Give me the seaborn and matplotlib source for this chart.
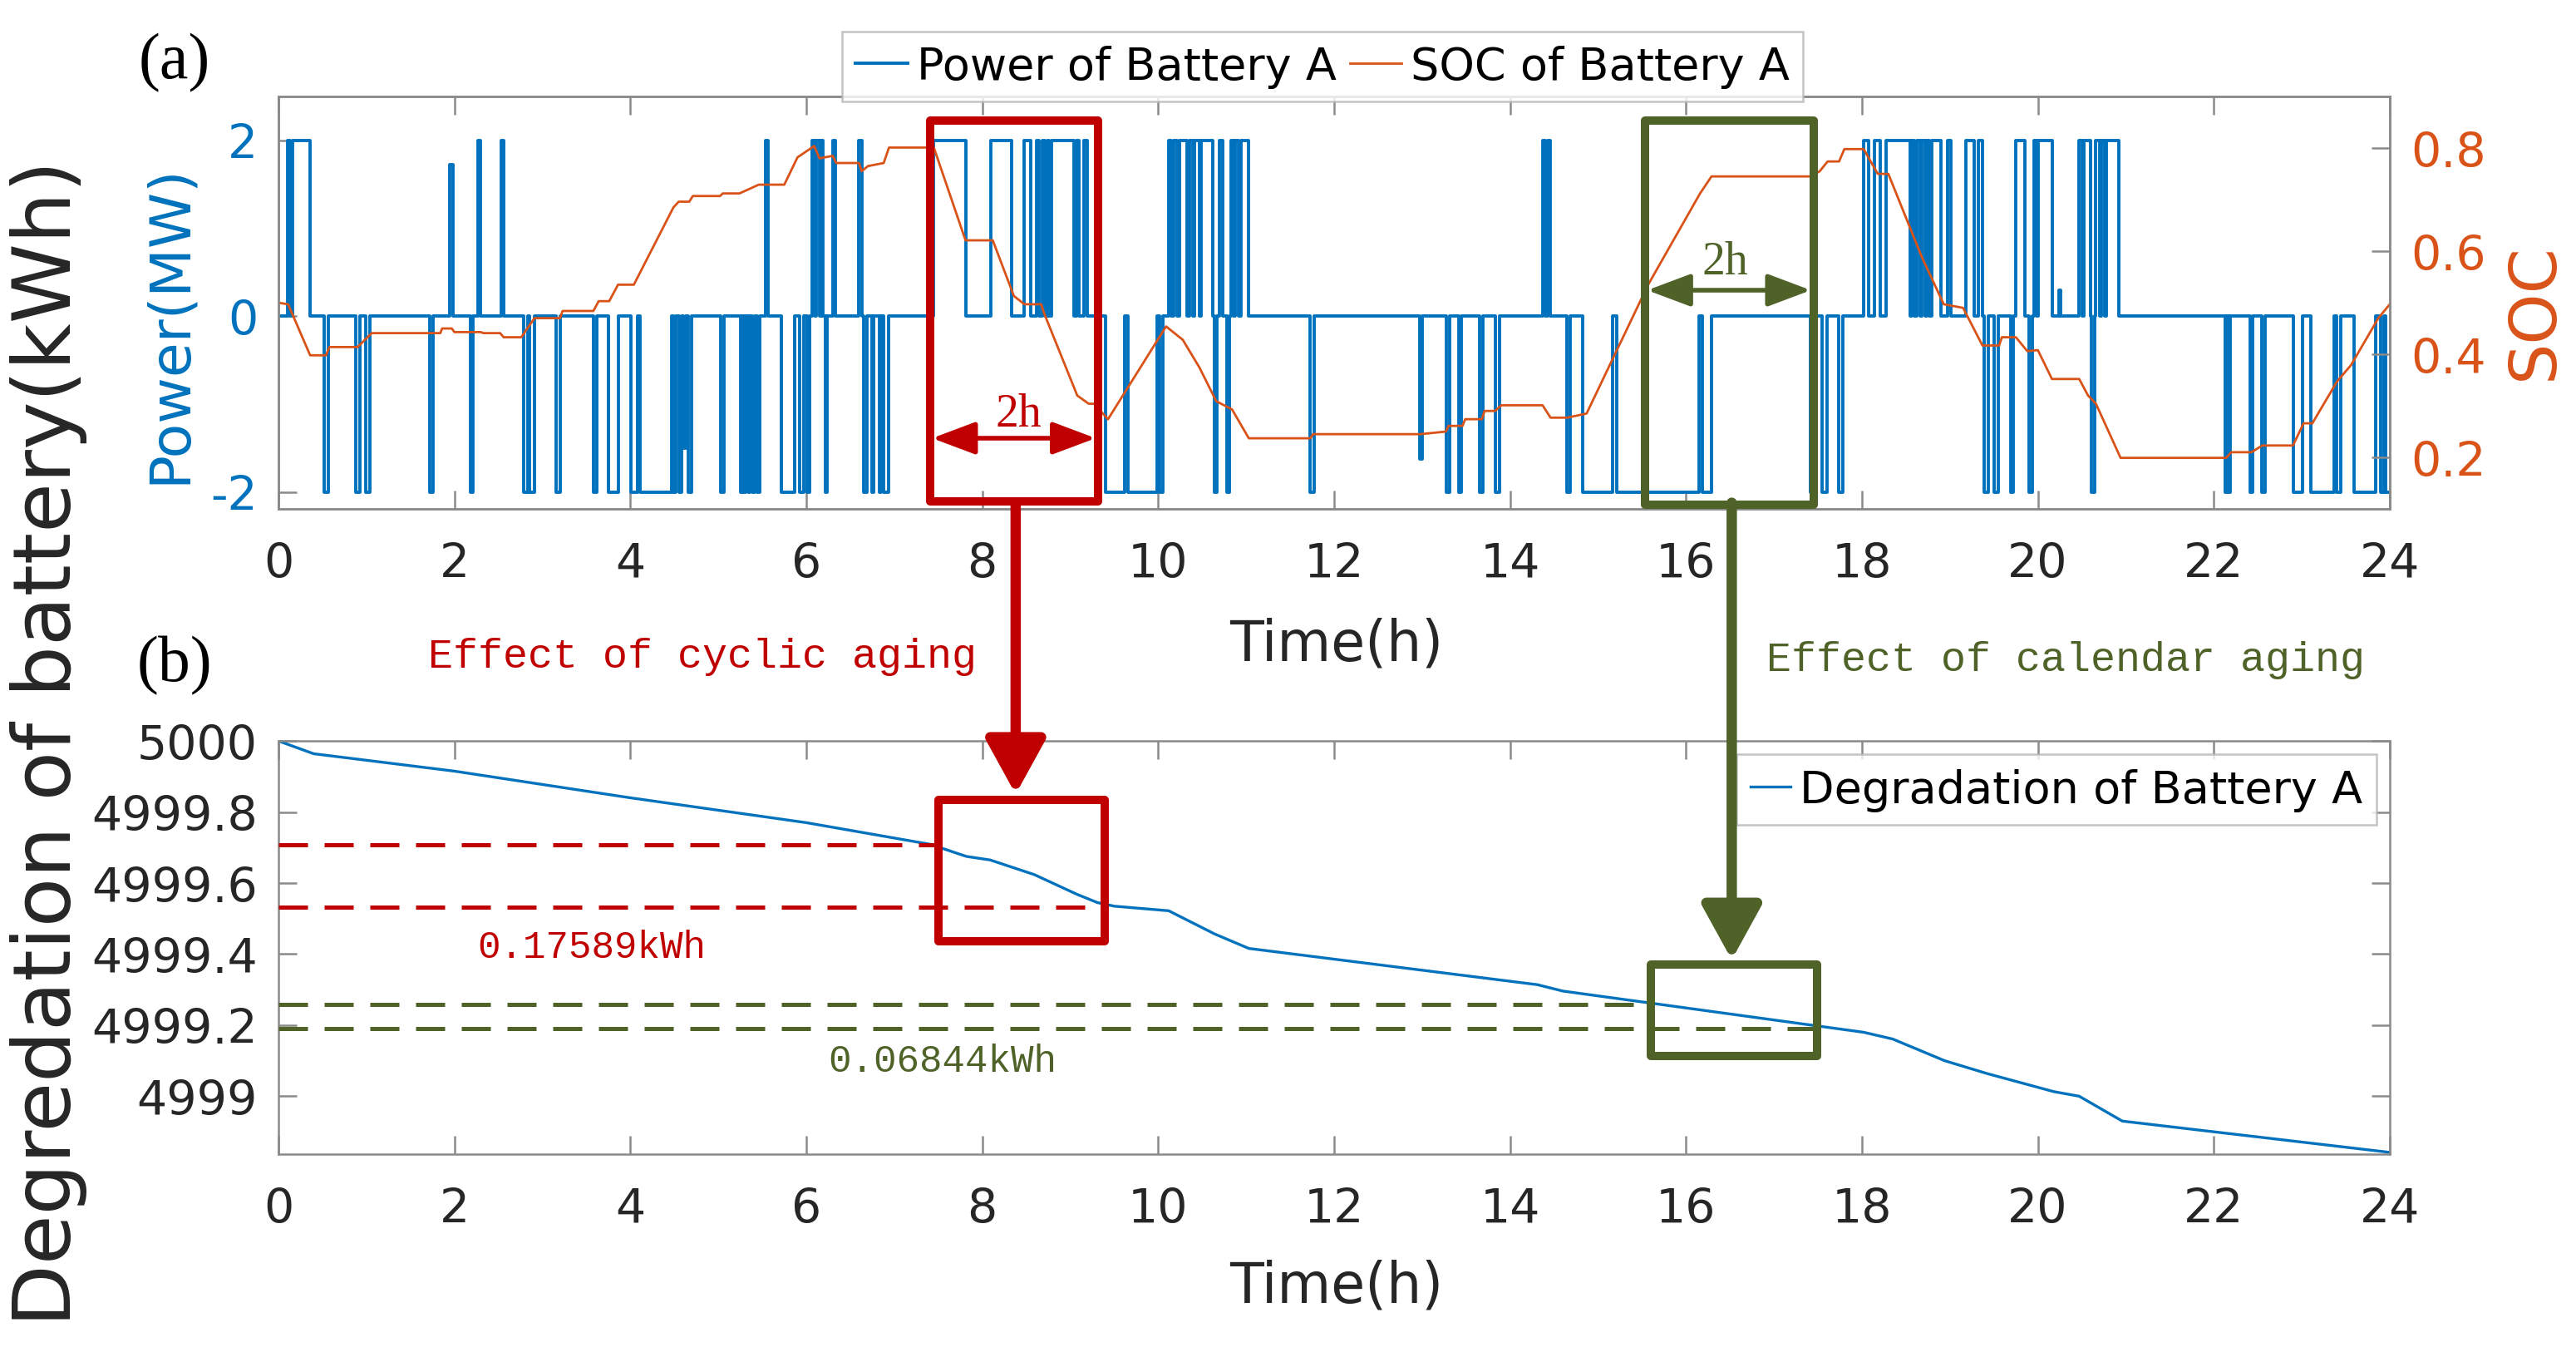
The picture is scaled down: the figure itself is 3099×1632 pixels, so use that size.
import matplotlib
matplotlib.use('Agg')
import matplotlib.pyplot as plt
import matplotlib.transforms as mtransforms
from matplotlib.patches import Rectangle, ConnectionPatch
from matplotlib.ticker import FuncFormatter
import seaborn as sns

# Power of battery A (MW): switch times (h) and the level held from that time on
power_t = [0.00, 0.10, 0.13, 0.16, 0.36, 0.52, 0.57, 0.88, 0.93, 0.99, 1.04,
           1.72, 1.76, 1.95, 1.98, 2.18, 2.21, 2.27, 2.30, 2.53, 2.56,
           2.79, 2.83, 2.85, 2.91, 3.16, 3.20, 3.58, 3.62, 3.75, 3.86,
           4.01, 4.08, 4.11, 4.47, 4.49, 4.52, 4.55, 4.58, 4.60, 4.63, 4.66, 4.70,
           5.03, 5.06, 5.25, 5.27, 5.29, 5.31, 5.34, 5.36, 5.39, 5.41, 5.44, 5.47,
           5.54, 5.57, 5.72, 5.87, 5.92, 5.97, 6.01, 6.04,
           6.07, 6.09, 6.11, 6.15, 6.17, 6.19, 6.22, 6.24, 6.30, 6.33, 6.60, 6.63,
           6.65, 6.69, 6.75, 6.77, 6.83, 6.85, 6.88, 6.94,
           7.45, 7.81, 8.10, 8.33, 8.48, 8.55, 8.62, 8.65, 8.68, 8.71, 8.74, 8.76,
           8.79, 9.04, 9.07, 9.10, 9.16, 9.19,
           9.40, 9.62, 9.66, 9.99, 10.02, 10.05,
           10.12, 10.15, 10.18, 10.21, 10.24, 10.33, 10.36, 10.39, 10.41, 10.47, 10.49, 10.62,
           10.64, 10.67, 10.70, 10.73, 10.78, 10.81, 10.83, 10.86, 10.88, 10.91, 10.94, 11.03,
           11.73, 11.77,
           12.97, 13.00, 13.28, 13.31, 13.42, 13.45, 13.65, 13.69, 13.83, 13.88,
           14.37, 14.40, 14.43, 14.46, 14.65, 14.68, 14.83, 15.17, 15.21,
           16.15, 16.19, 16.29, 17.41, 17.44, 17.55, 17.60, 17.74, 17.78,
           18.02, 18.08, 18.14, 18.21, 18.27, 18.55, 18.57, 18.60, 18.62, 18.66, 18.68, 18.72,
           18.74, 18.77, 18.79, 18.90,
           18.97, 19.01, 19.18, 19.28, 19.32, 19.37, 19.39, 19.44, 19.50, 19.55, 19.69, 19.72,
           19.75, 19.85, 19.90, 19.94,
           19.96, 19.98, 20.00, 20.16, 20.24, 20.26, 20.47, 20.50, 20.52, 20.60, 20.61, 20.65,
           20.66, 20.70, 20.72, 20.76, 20.78, 20.92,
           22.13, 22.15, 22.17, 22.19, 22.41, 22.44, 22.55, 22.58, 22.90, 23.01, 23.10, 23.37,
           23.40, 23.44, 23.59, 23.84, 23.90, 23.93, 23.95, 24.00]
power_v = [0, 2, 0, 2, 0, -2, 0, -2, 0, -2, 0,
           -2, 0, 1.73, 0, -2, 0, 2, 0, 2, 0,
           -2, 0, -2, 0, -2, 0, -2, 0, -2, 0,
           -2, 0, -2, 0, -2, 0, -2, 0, -1.5, 0, -2, 0,
           -2, 0, -2, 0, -2, 0, -2, 0, -2, 0, -2, 0,
           2, 0, -2, 0, -2, 0, -2, 0,
           2, 0, 2, 0, 2, 0, -2, 0, 2, 0, 2, 0,
           -2, 0, -2, 0, -2, 0, -2, 0,
           2, 0, 2, 0, 2, 0, 2, 0, 2, 0, 2, 0,
           2, 0, 2, 0, 2, 0,
           -2, 0, -2, 0, -2, 0,
           2, 0, 2, 0, 2, 0, 2, 0, 2, 0, 2, 0,
           -2, 0, 2, 0, -2, 0, 2, 0, 2, 0, 2, 0,
           -2, 0,
           -1.62, 0, -2, 0, -2, 0, -2, 0, -2, 0,
           2, 0, 2, 0, -2, 0, -2, 0, -2,
           0, -2, 0, -2, 0, -2, 0, -2, 0,
           2, 0, 2, 0, 2, 0, 2, 0, 2, 0, 2, 0,
           2, 0, 2, 0,
           2, 0, 2, 0, 2, 0, -2, 0, -2, 0, -2, 0,
           2, 0, -2, 0,
           2, 0, 2, 0, 0.3, 0, 2, 0, 2, 0, -2, 0,
           2, 0, 2, 0, 2, 0,
           -2, 0, -2, 0, -2, 0, -2, 0, -2, 0, -2, 0,
           -2, 0, -2, 0, -2, 0, -2, -2]

# State of charge of battery A
soc_t = [0.00, 0.11, 0.36, 0.54, 0.58, 0.90, 1.06, 1.84, 1.86, 1.97, 2.00, 2.30, 2.33,
         2.52, 2.56, 2.76, 2.91, 3.20, 3.23, 3.58, 3.64, 3.76, 3.86, 4.04, 4.49, 4.55,
         4.67, 4.71, 5.02, 5.05, 5.24, 5.46, 5.75, 5.90, 6.09, 6.15, 6.30, 6.34, 6.60,
         6.63, 6.70, 6.88, 6.94, 7.45, 7.81, 8.12, 8.36, 8.48, 8.67, 8.70, 9.08, 9.21,
         9.27, 9.43, 10.09, 10.28, 10.47, 10.66, 10.84, 11.03, 11.73, 11.76, 12.98, 13.27,
         13.30, 13.46, 13.49, 13.68, 13.71, 13.83, 13.90, 14.37, 14.46, 14.65, 14.87,
         15.57, 16.16, 16.29, 17.42, 17.52, 17.61, 17.74, 17.80, 18.02, 18.11, 18.18,
         18.30, 18.68, 18.93, 19.15, 19.37, 19.56, 19.59, 19.75, 19.88, 20.00, 20.16,
         20.47, 20.57, 20.66, 20.94, 22.14, 22.20, 22.43, 22.55, 22.90, 23.02, 23.12,
         23.40, 23.56, 23.87, 24.00]
soc_v = [0.500, 0.497, 0.398, 0.398, 0.414, 0.414, 0.441, 0.441, 0.450, 0.450, 0.443, 0.443, 0.441,
         0.441, 0.433, 0.433, 0.470, 0.470, 0.484, 0.484, 0.503, 0.503, 0.535, 0.535, 0.685, 0.696,
         0.696, 0.707, 0.707, 0.712, 0.712, 0.729, 0.729, 0.782, 0.804, 0.780, 0.785, 0.771, 0.771,
         0.755, 0.765, 0.771, 0.801, 0.801, 0.621, 0.621, 0.513, 0.497, 0.497, 0.481, 0.320, 0.304,
         0.304, 0.274, 0.454, 0.428, 0.374, 0.309, 0.293, 0.237, 0.237, 0.245, 0.245, 0.250,
         0.261, 0.261, 0.274, 0.274, 0.290, 0.290, 0.301, 0.301, 0.277, 0.277, 0.285,
         0.535, 0.712, 0.745, 0.745, 0.755, 0.774, 0.774, 0.798, 0.798, 0.771, 0.750,
         0.750, 0.589, 0.497, 0.490, 0.417, 0.417, 0.433, 0.433, 0.406, 0.408, 0.352,
         0.352, 0.320, 0.304, 0.199, 0.199, 0.210, 0.210, 0.223, 0.223, 0.266, 0.266,
         0.347, 0.379, 0.470, 0.497]

# Remaining capacity of battery A (kWh)
deg_t = [0.00, 0.40, 2.00, 4.00, 6.00, 7.41, 7.82, 8.09, 8.59, 9.08, 9.31, 9.50, 10.12,
         10.64, 11.03, 14.31, 14.60, 17.49, 18.02, 18.35, 18.94, 19.42, 20.18, 20.47,
         20.96, 24.00]
deg_v = [5000.000, 4999.964, 4999.915, 4999.840, 4999.770, 4999.709, 4999.675, 4999.665,
         4999.624, 4999.568, 4999.545, 4999.535, 4999.522, 4999.457, 4999.416, 4999.314,
         4999.296, 4999.198, 4999.180, 4999.161, 4999.100, 4999.064, 4999.013, 4999.000,
         4998.930, 4998.842]

# capacity drop inside the two 2 h windows
cyclic_top = 4999.707
cyclic_drop = 0.17589
calendar_top = 4999.258
calendar_drop = 0.06844

hours = list(range(0, 25, 2))

blue = '#0072BD'
orange = '#D95319'
red = '#C00000'
green = '#4F6228'
gray = '#8a8a8a'
dark = '#262626'

plt.rcParams['font.family'] = ['DejaVu Sans']
plt.rcParams['axes.linewidth'] = 0.9
plt.rcParams['axes.unicode_minus'] = False

fig = plt.figure(figsize=(15.495, 8.165), dpi=200)
ax1 = fig.add_axes([0.1081, 0.6246, 0.8196, 0.3037])
ax3 = fig.add_axes([0.1081, 0.1494, 0.8196, 0.3043])
ax2 = ax1.twinx()

# (a) power and SOC
sns.lineplot(x=power_t, y=power_v, ax=ax1, color=blue, lw=1.4, drawstyle='steps-post',
             estimator=None, sort=False)
sns.lineplot(x=soc_t, y=soc_v, ax=ax2, color=orange, lw=1.0, estimator=None, sort=False)
ax1.set_xlim(0, 24)
ax1.set_ylim(-2.19, 2.5)
ax2.set_ylim(0.1, 0.9)
ax1.set_xticks(hours)
ax1.set_yticks([-2, 0, 2])
ax2.set_yticks([0.2, 0.4, 0.6, 0.8])

# (b) degradation
sns.lineplot(x=deg_t, y=deg_v, ax=ax3, color=blue, lw=1.2, estimator=None, sort=False,
             label='Degradation of Battery A')
ax3.set_xlim(0, 24)
ax3.set_ylim(4998.837, 5000)
ax3.set_xticks(hours)
ax3.set_yticks([4999, 4999.2, 4999.4, 4999.6, 4999.8, 5000])
ax3.yaxis.set_major_formatter(FuncFormatter(lambda v, p: f'{v:g}'))

for ax in (ax1, ax2, ax3):
    for s in ax.spines.values():
        s.set_color(gray)
    ax.set_facecolor('none')
ax1.tick_params(axis='x', direction='in', top=True, bottom=True, length=8, width=0.9,
                color=gray, labelsize=20.5, labelcolor=dark, pad=14)
ax1.tick_params(axis='y', direction='in', left=True, right=False, length=8, width=0.9,
                color=gray, labelsize=20.5, labelcolor=blue, pad=9)
ax2.tick_params(axis='y', direction='in', right=True, length=8, width=0.9,
                color=gray, labelsize=20.5, labelcolor=orange, pad=9)
ax3.tick_params(axis='x', direction='in', top=True, bottom=True, length=8, width=0.9,
                color=gray, labelsize=20.5, labelcolor=dark, pad=14)
ax3.tick_params(axis='y', direction='in', left=True, right=True, length=8, width=0.9,
                color=gray, labelsize=20.5, labelcolor=dark, pad=9)

ax1.set_xlabel('Time(h)', fontsize=24, color=dark)
ax1.xaxis.set_label_coords(0.501, -0.327)
ax1.xaxis.label.set_va('center')
ax1.set_ylabel('Power(MW)', fontsize=24.5, color=blue)
ax1.yaxis.set_label_coords(-0.0516, 0.45)
ax1.yaxis.label.set_va('center')
ax2.set_ylabel('SOC', fontsize=28, color=orange)
ax2.yaxis.set_label_coords(1.0685, 0.48)
ax2.yaxis.label.set_va('center')
ax3.set_xlabel('Time(h)', fontsize=24, color=dark)
ax3.xaxis.set_label_coords(0.501, -0.318)
ax3.xaxis.label.set_va('center')
ax3.set_ylabel('Degredation of battery(kWh)', fontsize=35, color=dark)
ax3.yaxis.set_label_coords(-0.1087, 0.996)
ax3.yaxis.label.set_va('center')

# legends
h_power = ax1.lines[0]
h_soc = ax2.lines[0]
leg = ax2.legend([h_power, h_soc], ['Power of Battery A', 'SOC of Battery A'],
                 loc='lower center', bbox_to_anchor=(0.4945, 0.988), ncol=2,
                 fontsize=19.5, frameon=True, fancybox=False, edgecolor='#b5b5b5',
                 handlelength=1.15, handletextpad=0.2, columnspacing=0.3,
                 borderpad=0.3, borderaxespad=0)
leg.get_frame().set_linewidth(0.9)
leg3 = ax3.legend(loc='upper right', fontsize=19.5, frameon=True, fancybox=False,
                  edgecolor='#b5b5b5', handlelength=0.9, handletextpad=0.2,
                  borderpad=0.3, borderaxespad=0.3)
leg3.get_frame().set_linewidth(0.9)

# window boxes in panel (a)
top_blend = mtransforms.blended_transform_factory(ax1.transData, ax1.transAxes)
ax2.add_patch(Rectangle((7.41, 0.018), 9.32 - 7.41, 0.9415 - 0.018, transform=top_blend,
                        fill=False, ec=red, lw=3.6, joinstyle='round', clip_on=False, zorder=6))
ax2.add_patch(Rectangle((15.53, 0.010), 17.45 - 15.53, 0.9415 - 0.010, transform=top_blend,
                        fill=False, ec=green, lw=3.6, joinstyle='round', clip_on=False, zorder=6))

# 2 h spans
ax2.annotate('', xy=(9.29, -1.386), xytext=(7.43, -1.386), xycoords=ax1.transData,
             textcoords=ax1.transData,
             arrowprops=dict(arrowstyle='<|-|>,head_length=1.6,head_width=0.6', color=red,
                             lw=2.0, shrinkA=0, shrinkB=0, mutation_scale=10), zorder=7)
ax2.text(8.41, -1.11, '2h', transform=ax1.transData, color=red, fontsize=20,
         family='Liberation Serif', ha='center', va='center', zorder=7)
ax2.annotate('', xy=(17.42, 0.297), xytext=(15.56, 0.297), xycoords=ax1.transData,
             textcoords=ax1.transData,
             arrowprops=dict(arrowstyle='<|-|>,head_length=1.6,head_width=0.6', color=green,
                             lw=2.0, shrinkA=0, shrinkB=0, mutation_scale=10), zorder=7)
ax2.text(16.44, 0.618, '2h', transform=ax1.transData, color=green, fontsize=20,
         family='Liberation Serif', ha='center', va='center', zorder=7)

# window boxes and drop markers in panel (b)
ax3.add_patch(Rectangle((7.50, 4999.436), 9.39 - 7.50, 4999.834 - 4999.436, fill=False,
                        ec=red, lw=3.6, joinstyle='round', clip_on=False, zorder=6))
ax3.add_patch(Rectangle((15.60, 4999.113), 17.49 - 15.60, 4999.371 - 4999.113, fill=False,
                        ec=green, lw=3.6, joinstyle='round', clip_on=False, zorder=6))
dash = (0, (7, 4))
ax3.hlines(cyclic_top, 0, 7.46, colors=red, linestyles=dash, lw=1.8, zorder=5)
ax3.hlines(cyclic_top - cyclic_drop, 0, 9.35, colors=red, linestyles=dash, lw=1.8, zorder=5)
ax3.hlines(calendar_top, 0, 15.46, colors=green, linestyles=dash, lw=1.8, zorder=5)
ax3.hlines(calendar_top - calendar_drop, 0, 17.49, colors=green, linestyles=dash, lw=1.8, zorder=5)
ax3.text(3.56, 4999.42, f'{cyclic_drop:.5f}kWh', color=red, fontsize=16.5,
         family='Liberation Mono', ha='center', va='center')
ax3.text(7.55, 4999.099, f'{calendar_drop:.5f}kWh', color=green, fontsize=16.5,
         family='Liberation Mono', ha='center', va='center')

# arrows linking the two panels
for x, yb, col in [(8.38, 4999.85, red), (16.52, 4999.384, green)]:
    con = ConnectionPatch(xyA=(x, 0.015), coordsA=top_blend, xyB=(x, yb), coordsB=ax3.transData,
                          arrowstyle='-|>,head_length=2.0,head_width=1.1', mutation_scale=10,
                          color=col, lw=4.5, shrinkA=0, shrinkB=0, zorder=8)
    fig.add_artist(con)

fig.text(0.2727, 0.5162, 'Effect of cyclic aging', color=red, fontsize=18,
         family='Liberation Mono', ha='center', va='center')
fig.text(0.8019, 0.5135, 'Effect of calendar aging', color=green, fontsize=18,
         family='Liberation Mono', ha='center', va='center')
fig.text(0.0678, 0.954, '(a)', fontsize=28, family='Liberation Serif', ha='center', va='center')
fig.text(0.0678, 0.510, '(b)', fontsize=28, family='Liberation Serif', ha='center', va='center')

fig.savefig('out.png', dpi=200, facecolor='white')
